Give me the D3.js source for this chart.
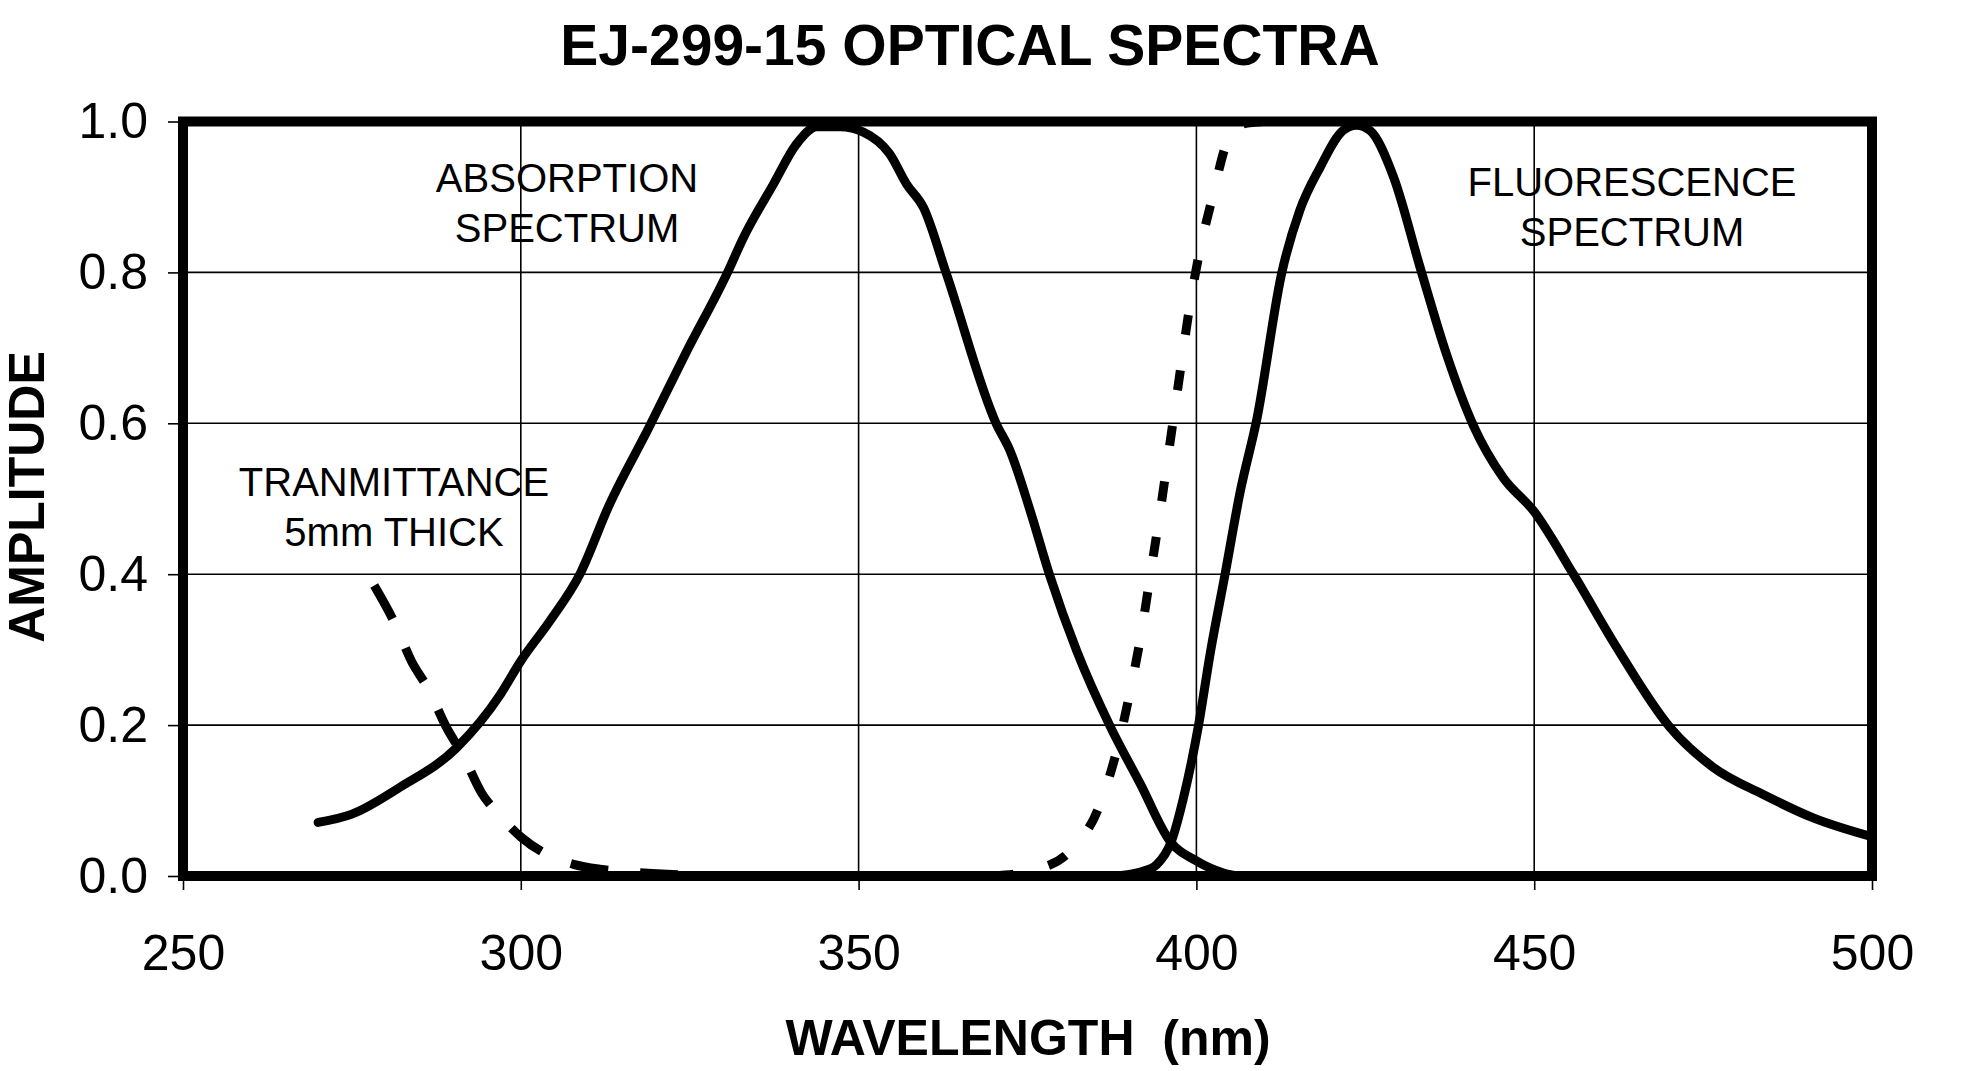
<!DOCTYPE html>
<html>
<head>
<meta charset="utf-8">
<script src="https://cdn.jsdelivr.net/npm/d3@7"></script>
<style>
  html, body { margin: 0; padding: 0; background: #fff; }
  svg { display: block; font-family: "Liberation Sans", Arial, sans-serif; }
</style>
</head>
<body>
<script>
"use strict";

// values
const absorptionNm = [270, 275, 282, 290.5, 297, 300, 304.3, 308.8, 313, 319, 324.6, 330.5, 333, 337.4,
  340.8, 343.8, 347.3, 350.7, 354.6, 357.1, 359.6, 363, 370.4, 372.4, 375.4, 378.3, 382.3, 387.2,
  391.7, 396.1, 400, 404, 406]
const absorptionAmp = [0.071, 0.082, 0.117, 0.170, 0.241, 0.285, 0.338, 0.401, 0.490, 0.595, 0.696, 0.798, 0.847, 0.917,
  0.970, 0.993, 0.993, 0.986, 0.957, 0.917, 0.886, 0.798, 0.599, 0.564, 0.484, 0.398, 0.298, 0.199,
  0.122, 0.046, 0.020, 0.004, 0]

const transmittanceNm = [278.3, 281.4, 283.8, 286.3, 289, 291.5, 294.2, 296.9, 300.1, 304, 307.8, 311.7, 316.6, 325,
  370, 376, 381.3, 385.6, 388.2, 390.2, 391.9, 393.2, 394.5, 396.6, 397.8, 398.8, 400.3, 402.3, 404.5, 406, 410]
const transmittanceAmp = [0.385, 0.334, 0.285, 0.248, 0.197, 0.159, 0.110, 0.080, 0.051, 0.028, 0.0155, 0.009, 0.005, 0.001,
  0, 0.008, 0.033, 0.092, 0.166, 0.245, 0.325, 0.400, 0.475, 0.606, 0.681, 0.743, 0.820, 0.897, 0.972, 0.995, 1.0]

const fluorescenceNm = [388, 392, 394.1, 396.3, 398.1, 400.3, 402.1, 404.2, 406.5, 409, 412.6, 415.3, 418.3, 421.7,
  423.7, 425.7, 429.2, 433.1, 437, 441, 445.4, 449.9, 455.8, 462.2, 470.1, 476.5, 483.9, 491.3, 500]
const fluorescenceAmp = [0, 0.006, 0.015, 0.046, 0.104, 0.199, 0.298, 0.398, 0.510, 0.608, 0.798, 0.882, 0.939, 0.988,
  0.995, 0.988, 0.926, 0.807, 0.692, 0.597, 0.528, 0.484, 0.400, 0.303, 0.197, 0.144, 0.108, 0.077, 0.052]

const xTicks = [250, 300, 350, 400, 450, 500]
const yTicks = [0, 0.2, 0.4, 0.6, 0.8, 1.0]

const title = 'EJ-299-15 OPTICAL SPECTRA'
    , xTitle = 'WAVELENGTH  (nm)'
    , yTitle = 'AMPLITUDE'

const d = {
  WIDTH: 1969,
  HEIGHT: 1071,
  LEFT: 183,
  RIGHT: 1872,
  TOP: 121.5,
  BOTTOM: 876,
}

const zip = (xs, ys) => xs.map((x, i) => [x, ys[i]])

const svg = d3.select('body')
  .append('svg')
    .attr('width', d.WIDTH)
    .attr('height', d.HEIGHT)

svg.append('rect')
  .attr('width', d.WIDTH)
  .attr('height', d.HEIGHT)
  .attr('fill', '#fff')

const x = d3.scaleLinear().domain([250, 500]).range([d.LEFT, d.RIGHT])
    , y = d3.scaleLinear().domain([0, 1]).range([d.BOTTOM, d.TOP])

// grid
svg.append('g')
  .selectAll('line')
  .data(yTicks.slice(1, -1))
  .join('line')
    .attr('x1', d.LEFT).attr('x2', d.RIGHT)
    .attr('y1', v => y(v)).attr('y2', v => y(v))
    .attr('stroke', '#000')
    .attr('stroke-width', 1.6)

svg.append('g')
  .selectAll('line')
  .data(xTicks.slice(1, -1))
  .join('line')
    .attr('x1', v => x(v)).attr('x2', v => x(v))
    .attr('y1', d.TOP).attr('y2', d.BOTTOM)
    .attr('stroke', '#000')
    .attr('stroke-width', 1.6)

// axes
const yAxis = svg.append('g')
  .attr('transform', `translate(${d.LEFT},0)`)
  .call(d3.axisLeft(y).tickValues(yTicks).tickSize(15).tickPadding(20).tickFormat(d3.format('.1f')))

const xAxis = svg.append('g')
  .attr('transform', `translate(0,${d.BOTTOM})`)
  .call(d3.axisBottom(x).tickValues(xTicks).tickSize(14).tickPadding(44).tickFormat(d3.format('d')))

;[yAxis, xAxis].forEach(g => {
  g.select('.domain').remove()
  g.attr('font-family', null).attr('font-size', null)
  g.selectAll('.tick line').attr('stroke', '#000').attr('stroke-width', 1.6)
  g.selectAll('.tick text')
    .attr('fill', '#000')
    .style('font-size', '50px')
})

// curves
const line = d3.line()
  .x(p => x(p[0]))
  .y(p => y(p[1]))
  .curve(d3.curveMonotoneX)

const plot = svg.append('g')

plot.append('path')
  .attr('d', line(zip(absorptionNm, absorptionAmp)))
  .attr('fill', 'none')
  .attr('stroke', '#000')
  .attr('stroke-width', 9)
  .attr('stroke-linecap', 'round')
  .attr('stroke-linejoin', 'round')

plot.append('path')
  .attr('d', line(zip(fluorescenceNm, fluorescenceAmp)))
  .attr('fill', 'none')
  .attr('stroke', '#000')
  .attr('stroke-width', 9)
  .attr('stroke-linecap', 'round')
  .attr('stroke-linejoin', 'round')

// the transmittance dash pattern differs on the two sides of the chart
const trans = zip(transmittanceNm, transmittanceAmp)
const transParts = [
  { pts: trans.filter(p => p[0] < 350), dash: '38,32' },
  { pts: trans.filter(p => p[0] >= 350), dash: '20,36' },
]

plot.selectAll('path.trans')
  .data(transParts)
  .join('path')
    .attr('class', 'trans')
    .attr('d', p => line(p.pts))
    .attr('fill', 'none')
    .attr('stroke', '#000')
    .attr('stroke-width', 9)
    .attr('stroke-dasharray', p => p.dash)

// frame
svg.append('rect')
  .attr('x', d.LEFT)
  .attr('y', d.TOP)
  .attr('width', d.RIGHT - d.LEFT)
  .attr('height', d.BOTTOM - d.TOP)
  .attr('fill', 'none')
  .attr('stroke', '#000')
  .attr('stroke-width', 10)

// annotations
const notes = [
  { lines: ['ABSORPTION', 'SPECTRUM'], x: 567, y: 192 },
  { lines: ['FLUORESCENCE', 'SPECTRUM'], x: 1632, y: 196 },
  { lines: ['TRANMITTANCE', '5mm THICK'], x: 394, y: 496 },
]

notes.forEach(n => {
  const t = svg.append('text')
    .attr('text-anchor', 'middle')
    .attr('font-size', 40)
    .attr('fill', '#000')
  n.lines.forEach((s, i) => {
    t.append('tspan')
      .attr('x', n.x)
      .attr('y', n.y + i * 50)
      .text(s)
  })
})

// titles
svg.append('text')
  .attr('x', 970)
  .attr('y', 65)
  .attr('text-anchor', 'middle')
  .attr('font-size', 57)
  .attr('font-weight', 'bold')
  .text(title)

svg.append('text')
  .attr('x', 1028)
  .attr('y', 1055)
  .attr('text-anchor', 'middle')
  .attr('font-size', 50)
  .attr('font-weight', 'bold')
  .style('white-space', 'pre')
  .text(xTitle)

svg.append('text')
  .attr('transform', 'translate(44,497) rotate(-90)')
  .attr('text-anchor', 'middle')
  .attr('font-size', 50)
  .attr('font-weight', 'bold')
  .text(yTitle)
</script>
</body>
</html>
